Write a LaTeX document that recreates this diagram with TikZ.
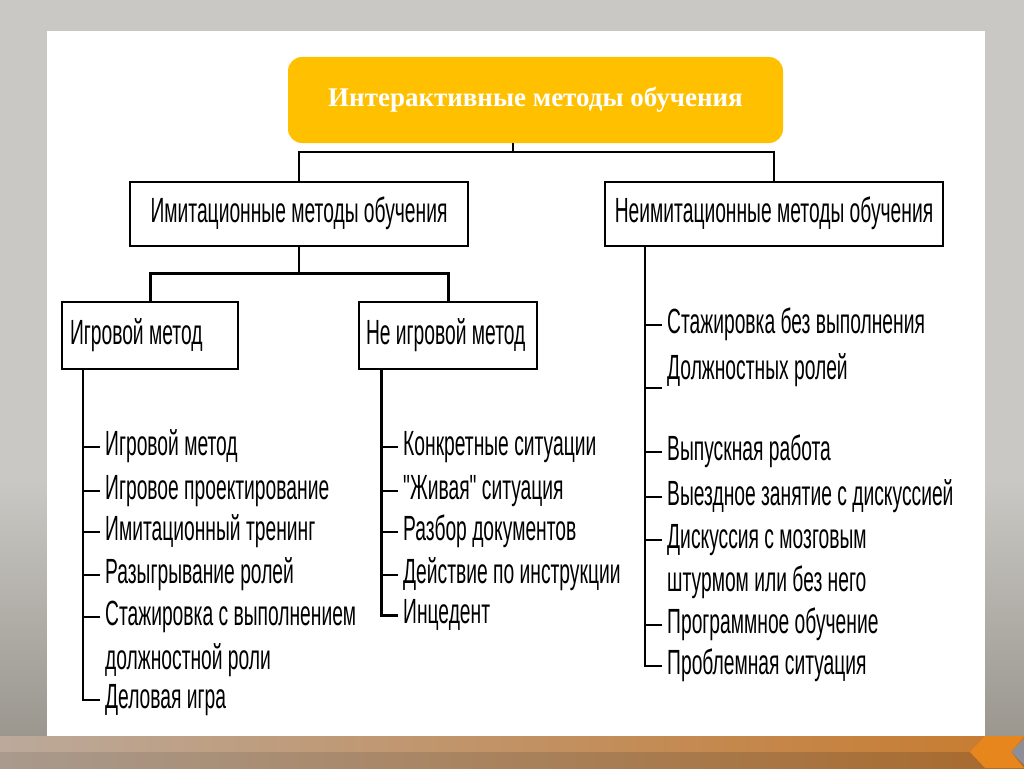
\documentclass[tikz,border=0pt]{standalone}
\usepackage{fontspec}
\setmainfont{Liberation Sans}
\newfontfamily\narrowfont[FakeStretch=0.55]{Liberation Sans}
\newfontfamily\titlefont{Liberation Serif}
\definecolor{slideyellow}{HTML}{FFC000}
\definecolor{bggrey}{HTML}{C9C8C4}
\definecolor{bgdark}{HTML}{9B978F}
\definecolor{barleft}{HTML}{BBA99B}
\definecolor{barright}{HTML}{C87B2E}
\definecolor{barleftlow}{HTML}{A99A8D}
\definecolor{barrightlow}{HTML}{A8692B}
\definecolor{chevorange}{HTML}{E8861E}
\definecolor{chevgrey}{HTML}{8E8E98}

\begin{document}
\begin{tikzpicture} [
    x=1pt, y=-1pt,
    titlebox/.style={rectangle, fill=slideyellow, rounded corners=14pt, minimum width=495pt, minimum height=86pt, text=white, font=\titlefont\bfseries\fontsize{27}{31}\selectfont},
    box/.style={rectangle, draw, line width=2pt, minimum height=64pt, inner sep=0pt, text height=25pt, text depth=8pt, font=\narrowfont\fontsize{35}{40}\selectfont},
    item/.style={anchor=west, inner xsep=5pt, inner ysep=0pt, text height=25pt, text depth=8pt, font=\narrowfont\fontsize{35}{40}\selectfont},
    link/.style={line width=1.5pt},
    thicklink/.style={line width=3pt},
    thinlink/.style={line width=1.2pt},
    tick/.style={line width=2pt}
]
    % фон слайда
    \fill[bggrey] (0,0) rectangle (1024,768);
    \shade[top color=bggrey, bottom color=bgdark] (0,480) rectangle (1024,736);
    \fill[white] (47,31) rectangle (985,736);

    % нижняя полоса
    \shade[left color=barleft, right color=barright] (0,736) rectangle (1024,752);
    \shade[left color=barleftlow, right color=barrightlow] (0,752) rectangle (1024,768);
    \fill[chevorange] (985,736) -- (1024,736) -- (1011,752) -- (1024,768) -- (985,768) -- (970,752) -- cycle;
    \fill[chevgrey] (1024,739) -- (1011,752) -- (1024,765) -- cycle;

    % заголовок
    \node[titlebox] (title) at (535.5,100) {Интерактивные методы обучения};

    % второй уровень
    \node[box, minimum width=338pt] (imit) at (299,214) {Имитационные методы обучения};
    \node[box, minimum width=338pt] (neimit) at (774,214) {Неимитационные методы обучения};

    % третий уровень
    \node[box, minimum width=176pt, minimum height=67pt, text width=160pt, align=flush left] (game) at (150,335.5) {Игровой метод};
    \node[box, minimum width=178pt, minimum height=67pt, text width=164pt, align=flush left] (nongame) at (448,335.5) {Не игровой метод};

    % игровые методы
    \node[item] (g1) at (100,447) {Игровой метод};
    \node[item] (g2) at (100,491) {Игровое проектирование};
    \node[item] (g3) at (100,532) {Имитационный тренинг};
    \node[item] (g4) at (100,575) {Разыгрывание ролей};
    \node[item] (g5) at (100,617) {Стажировка с выполнением};
    \node[item] (g6) at (100,661) {должностной роли};
    \node[item] (g7) at (100,700) {Деловая игра};

    % не игровые методы
    \node[item] (n1) at (398,447) {Конкретные ситуации};
    \node[item] (n2) at (398,491) {"Живая" ситуация};
    \node[item] (n3) at (398,532) {Разбор документов};
    \node[item] (n4) at (398,575) {Действие по инструкции};
    \node[item] (n5) at (398,615) {Инцедент};

    % неимитационные методы
    \node[item] (r1) at (662,325) {Стажировка без выполнения};
    \node[item] (r2) at (662,371) {Должностных ролей};
    \node[item] (r3) at (662,452) {Выпускная работа};
    \node[item] (r4) at (662,497) {Выездное занятие с дискуссией};
    \node[item] (r5) at (662,540) {Дискуссия с мозговым};
    \node[item] (r6) at (662,583) {штурмом или без него};
    \node[item] (r7) at (662,625) {Программное обучение};
    \node[item] (r8) at (662,666) {Проблемная ситуация};

    % связи между блоками
    \coordinate (tsplit) at (513,152);
    \coordinate (isplit) at (299,273);
    \draw[link] (title.south -| tsplit) -- (tsplit);
    \draw[link] (imit.north) |- (tsplit) -| (neimit.north);
    \draw[link] (imit.south) -- (isplit);
    \draw[thicklink] (game.north) |- (isplit) -| (nongame.north);

    % линии списков
    \coordinate (gline) at ([xshift=22pt]game.south west);
    \coordinate (nline) at ([xshift=23pt]nongame.south west);
    \coordinate (rline) at ([xshift=41pt]neimit.south west);

    \draw[link] (gline) |- (g7.west);
    \draw[tick] (gline |- g1.west) -- (g1.west);
    \draw[tick] (gline |- g2.west) -- (g2.west);
    \draw[tick] (gline |- g3.west) -- (g3.west);
    \draw[tick] (gline |- g4.west) -- (g4.west);
    \draw[tick] (gline |- g5.west) -- (g5.west);

    \draw[thicklink] (nline) |- (n5.west);
    \draw[tick] (nline |- n1.west) -- (n1.west);
    \draw[tick] (nline |- n2.west) -- (n2.west);
    \draw[tick] (nline |- n3.west) -- (n3.west);
    \draw[tick] (nline |- n4.west) -- (n4.west);

    \draw[thinlink] (rline) |- (r8.west);
    \draw[tick] (rline |- r1.west) -- (r1.west);
    \draw[tick] (rline |- r2.south west) -- (r2.south west);
    \draw[tick] (rline |- r3.west) -- (r3.west);
    \draw[tick] (rline |- r4.west) -- (r4.west);
    \draw[tick] (rline |- r5.west) -- (r5.west);
    \draw[tick] (rline |- r7.west) -- (r7.west);
\end{tikzpicture}
\end{document}
